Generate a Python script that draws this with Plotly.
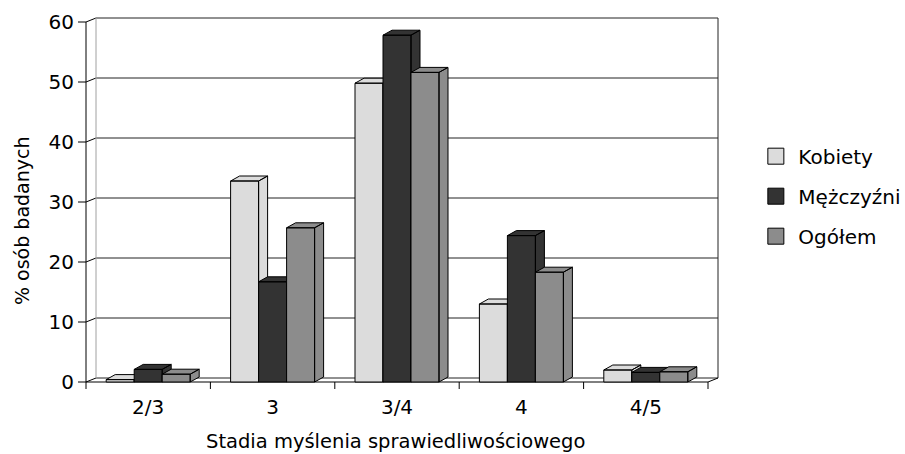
import plotly.graph_objects as go

# --- data -------------------------------------------------------------
categories = ["2/3", "3", "3/4", "4", "4/5"]
series_names = ["Kobiety", "Mężczyźni", "Ogółem"]
kobiety = [0.4, 33.5, 49.8, 13.0, 2.0]
mezczyzni = [2.1, 16.7, 57.8, 24.4, 1.6]
ogolem = [1.3, 25.7, 51.6, 18.3, 1.7]
y_ticks = [0, 10, 20, 30, 40, 50, 60]

x_title = "Stadia myślenia sprawiedliwościowego"
y_title = "% osób badanych"

# --- style ------------------------------------------------------------
colors = ["#DCDCDC", "#333333", "#8C8C8C"]
FONT = "DejaVu Sans"
FS = 20

PX_CAT = 124.4          # pixels per category slot
PX_UNIT = 6.0           # pixels per percent
WALL_DX = 10 / PX_CAT   # depth of the walls (oblique projection)
WALL_DY = 4 / PX_UNIT
BAR_DX = 9 / PX_CAT     # depth of each column
BAR_DY = 5 / PX_UNIT
BAR_W = 28 / PX_CAT     # column width
Y_MAX = y_ticks[-1]
n = len(categories)
X0, X1 = -0.5, n - 0.5


def box_faces(values, k):
    """Front, top and right faces of the k-th column in every category."""
    xs, ys = [], []
    for i, v in enumerate(values):
        xl = i + (k - 1.5) * BAR_W
        xr = xl + BAR_W
        # right side face
        xs += [xr, xr + BAR_DX, xr + BAR_DX, xr, xr, None]
        ys += [0, BAR_DY, v + BAR_DY, v, 0, None]
        # top face
        xs += [xl, xr, xr + BAR_DX, xl + BAR_DX, xl, None]
        ys += [v, v, v + BAR_DY, v + BAR_DY, v, None]
        # front face
        xs += [xl, xr, xr, xl, xl, None]
        ys += [0, 0, v, v, 0, None]
    return xs, ys


fig = go.Figure()
for k, (name, vals) in enumerate(zip(series_names, [kobiety, mezczyzni, ogolem])):
    xs, ys = box_faces(vals, k)
    fig.add_trace(go.Scatter(
        x=xs, y=ys, mode="lines", fill="toself", fillcolor=colors[k],
        line=dict(color="black", width=1), name=name, legendgroup=name,
        showlegend=False, hoverinfo="skip"))
    fig.add_trace(go.Scatter(
        x=[None], y=[None], mode="markers", name=name, legendgroup=name,
        marker=dict(symbol="square", size=16, color=colors[k],
                    line=dict(color="black", width=1))))

# --- walls, floor, gridlines and tick marks ---------------------------
shapes = []


def seg(x0, y0, x1, y1, color="black", width=1):
    shapes.append(dict(type="line", xref="x", yref="y", x0=x0, y0=y0,
                       x1=x1, y1=y1, layer="below",
                       line=dict(color=color, width=width)))


for t in y_ticks:
    seg(X0 + WALL_DX, t + WALL_DY, X1 + WALL_DX, t + WALL_DY, "#222222")
    seg(X0, t, X0 + WALL_DX, t + WALL_DY)
    seg(X0 - 8 / PX_CAT, t, X0, t)
seg(X0 + WALL_DX, WALL_DY, X0 + WALL_DX, Y_MAX + WALL_DY, "#A0A0A0")
seg(X1 + WALL_DX, WALL_DY, X1 + WALL_DX, Y_MAX + WALL_DY, "#222222")
seg(X0, 0, X0, Y_MAX)
seg(X0, 0, X1, 0)
seg(X1, 0, X1 + WALL_DX, WALL_DY)
for b in range(n + 1):
    seg(X0 + b, 0, X0 + b, -7 / PX_UNIT)

fig.update_layout(
    width=905, height=454,
    margin=dict(l=77, r=186, t=17, b=63, autoexpand=False),
    paper_bgcolor="white", plot_bgcolor="white",
    font=dict(family=FONT, size=FS, color="black"),
    shapes=shapes,
    showlegend=True,
    legend=dict(x=1.0535, y=0.68, xanchor="left", yanchor="top",
                font=dict(family=FONT, size=FS), tracegroupgap=11,
                itemwidth=35, bgcolor="rgba(0,0,0,0)", itemclick=False),
    annotations=[
        dict(text=x_title, xref="paper", yref="paper", x=(395 - 77) / 642,
             y=-(442 - 391) / 374, xanchor="center", yanchor="middle",
             showarrow=False, font=dict(family=FONT, size=19.5)),
        dict(text=y_title, xref="paper", yref="paper", x=(22 - 77) / 642,
             y=(391 - 221) / 374, xanchor="center", yanchor="middle",
             textangle=-90, showarrow=False, font=dict(family=FONT, size=19)),
    ],
)
fig.update_xaxes(range=[X0 - 9 / PX_CAT, X1 + 11 / PX_CAT],
                 tickvals=list(range(n)), ticktext=categories, ticks="",
                 showgrid=False, zeroline=False, showline=False,
                 ticklabelstandoff=2, fixedrange=True)
fig.update_yaxes(range=[-9 / PX_UNIT, (382 - 17) / PX_UNIT],
                 tickvals=y_ticks, ticks="", showgrid=False, zeroline=False,
                 showline=False, ticklabelstandoff=2, fixedrange=True)

fig.write_html("out.html")
